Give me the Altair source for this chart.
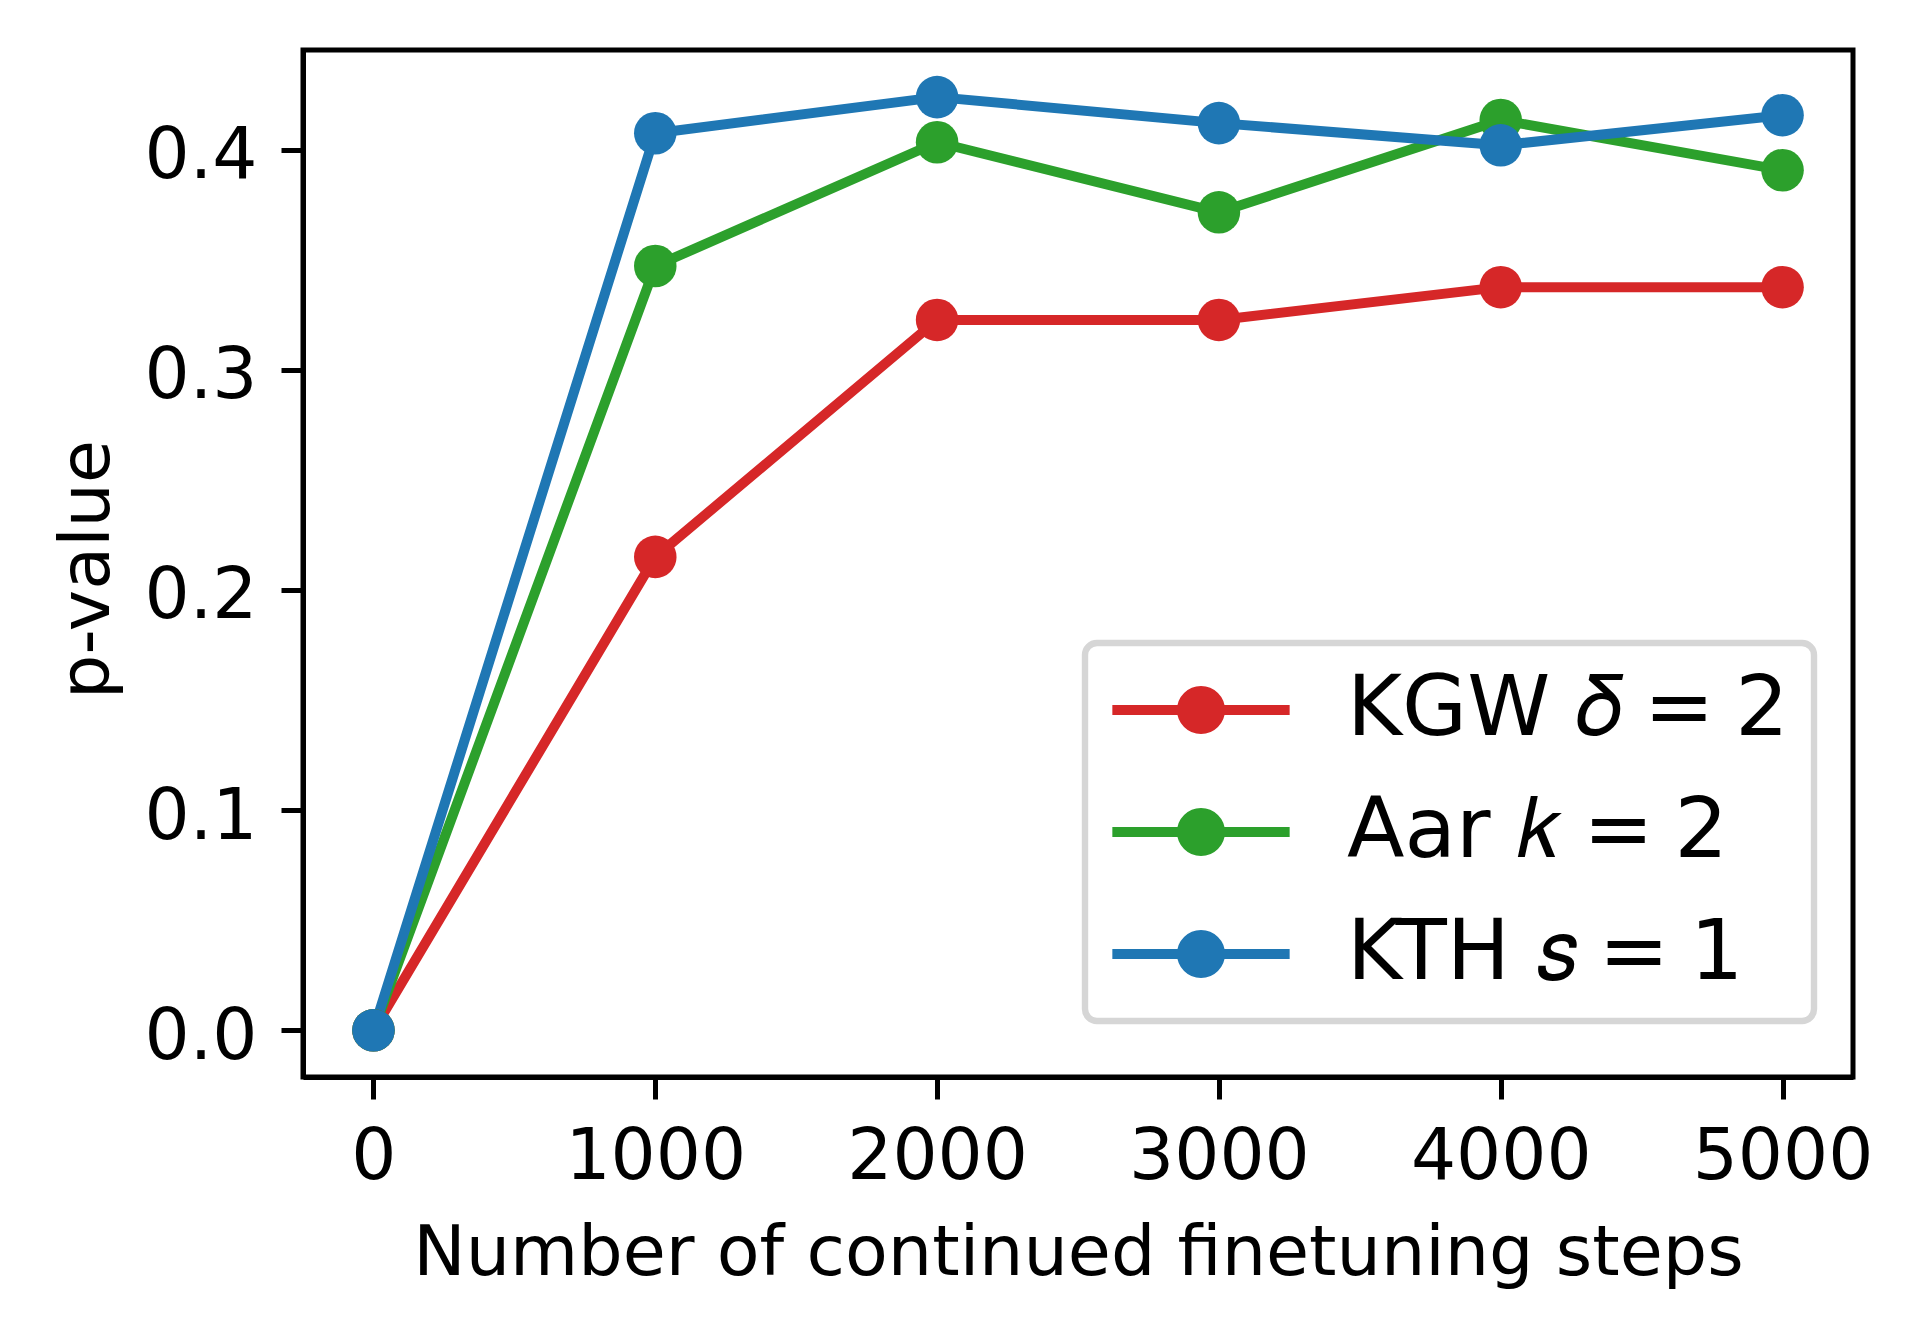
import altair as alt
import pandas as pd

steps = [0, 1000, 2000, 3000, 4000, 5000]
kgw = [0.0, 0.215, 0.3226, 0.3226, 0.3375, 0.3375]
aar = [0.0, 0.3471, 0.4033, 0.3715, 0.4134, 0.3906]
kth = [0.0, 0.4074, 0.4238, 0.4120, 0.4019, 0.4156]
series_names = ["KGW 𝛿\u2005=\u20052", "Aar 𝑘\u2005=\u20052", "KTH 𝑠\u2005=\u20051"]
colors = ["#d62728", "#2ca02c", "#1f77b4"]
x_ticks = [0, 1000, 2000, 3000, 4000, 5000]
y_ticks = [0.0, 0.1, 0.2, 0.3, 0.4]

rows = []
for name, vals in zip(series_names, [kgw, aar, kth]):
    for s, v in zip(steps, vals):
        rows.append({"steps": s, "p": v, "series": name})
df = pd.DataFrame(rows)

FONT = "DejaVu Sans"
# legend symbol: horizontal line plus concentric stroked rings forming a disk
# (path unit = sqrt(symbolSize)/2 = 30 px)
sym_path = (
    "M-2.955,0L2.955,0"
    "M0.633,0A0.633,0.633,0,1,1,-0.633,0A0.633,0.633,0,1,1,0.633,0Z"
    "M0.333,0A0.333,0.333,0,1,1,-0.333,0A0.333,0.333,0,1,1,0.333,0Z"
    "M0.1,0A0.1,0.1,0,1,1,-0.1,0A0.1,0.1,0,1,1,0.1,0Z"
)

chart = alt.Chart(df).mark_line(
    strokeWidth=10, strokeJoin="round",
    point=alt.OverlayMarkDef(filled=True, size=1810, opacity=1),
).encode(
    x=alt.X("steps:Q",
            scale=alt.Scale(domain=[-250, 5250], nice=False, zero=False),
            axis=alt.Axis(values=x_ticks, format="d",
                          title="Number of continued finetuning steps",
                          labelPadding=23, labelFlush=False, labelOverlap=False,
                          titleBaseline="alphabetic", titleY=197)),
    y=alt.Y("p:Q",
            scale=alt.Scale(domain=[-0.0212, 0.4452], nice=False, zero=False),
            axis=alt.Axis(values=y_ticks, format=".1f", title="p-value",
                          labelPadding=24, labelOffset=7, labelOverlap=False,
                          titleAngle=270, titleBaseline="alphabetic",
                          titleX=-195, titleY=519)),
    color=alt.Color("series:N",
                    scale=alt.Scale(domain=series_names, range=colors),
                    sort=series_names,
                    legend=alt.Legend(
                        orient="none", legendX=782, legendY=593, title=None,
                        symbolType=sym_path, symbolSize=3600,
                        symbolStrokeWidth=10, symbolOffset=49,
                        symbolOpacity=1,
                        labelOffset=104, labelFontSize=84, labelFont=FONT,
                        labelColor="black", labelLimit=2000,
                        rowPadding=38, padding=25,
                        fillColor="white", strokeColor="#d6d6d6",
                        cornerRadius=12)),
).properties(
    width=1550, height=1027,
    autosize=alt.AutoSizeParams(type="none"),
    padding={"left": 295, "top": 42, "right": 60, "bottom": 250},
).configure_axis(
    domainColor="black", domainWidth=5, tickColor="black", tickWidth=5,
    tickSize=22, labelFont=FONT, labelFontSize=71, labelColor="black",
    labelLimit=1000,
    titleFont=FONT, titleFontSize=70, titleFontWeight="normal",
    titleColor="black", grid=False,
).configure_legend(
    strokeWidth=6.4,
).configure_view(stroke="black", strokeWidth=5)

chart.save("out.html", embed_options={"renderer": "svg", "actions": False})
